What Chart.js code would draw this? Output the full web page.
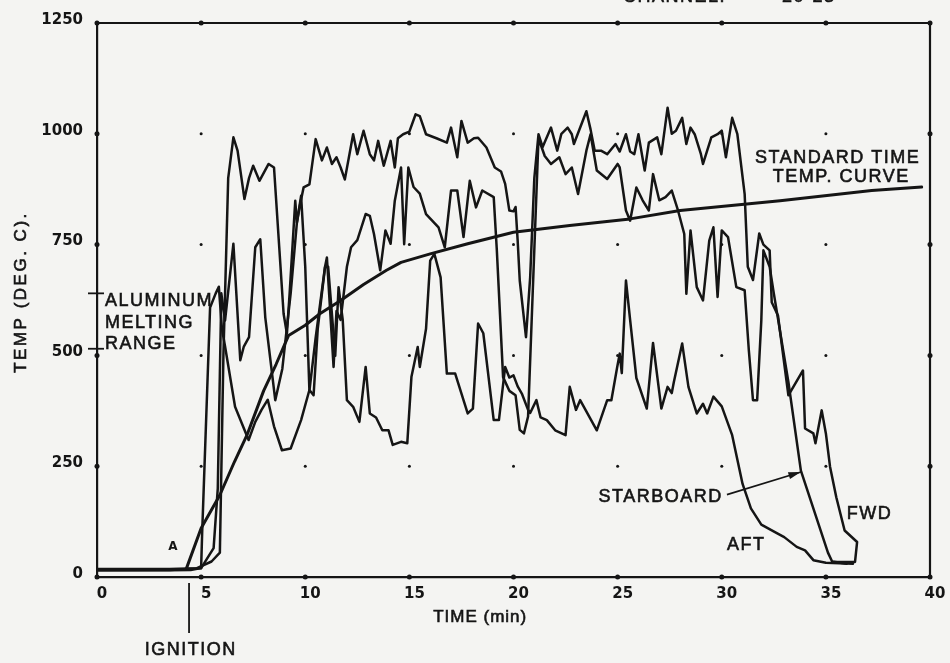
<!DOCTYPE html>
<html>
<head>
<meta charset="utf-8">
<style>
html,body{margin:0;padding:0;background:#f4f4f2;}
canvas{display:block;}
</style>
<script src="https://cdn.jsdelivr.net/npm/chart.js@4"></script>
</head>
<body>
<canvas id="c" width="950" height="663"></canvas>
<script>
// ---- tick labels ----
const xTickValues = [0, 5, 10, 15, 20, 25, 30, 35, 40];
const yTickValues = [0, 250, 500, 750, 1000, 1250];

// ---- FWD thermocouple (min, deg C) ----
const fwdTime = [0,3.5,4.8,5.5,5.9,6.07,6.3,6.55,6.75,7.08,7.3,7.5,7.8,8.24,8.5,8.96,9.12,9.25,9.52,9.6,9.75,9.92,10.2,10.5,10.8,11.04,11.28,11.5,11.7,11.9,12.3,12.5,12.8,13.1,13.3,13.5,13.77,14.1,14.3,14.45,14.7,15.0,15.3,15.5,15.8,16.3,16.8,17.0,17.3,17.5,17.8,18.1,18.3,18.7,19.1,19.4,19.6,19.8,20.0,20.1,20.2,20.3,20.6,20.8,21.0,21.2,21.4,21.8,22.1,22.3,22.6,22.8,22.9,23.5,23.7,23.9,24.2,24.5,24.9,25.1,25.4,25.6,25.8,26.0,26.3,26.5,26.9,27.1,27.4,27.6,27.8,28.1,28.3,28.5,28.7,29.0,29.1,29.5,29.8,30.0,30.2,30.5,30.75,31.1,31.25,31.5,31.8,32.0,32.3,32.4,32.7,33.2,33.9,34.0,34.4,34.5,34.8,35.0,35.2,35.5,35.9,36.5,36.4,35.3];
const fwdTemp = [18,18,20,35,55,500,900,992,962,853,900,928,894,932,924,594,549,640,849,800,840,879,886,988,940,969,932,947,924,897,999,954,1007,954,940,984,928,984,924,990,999,1005,1044,1040,999,990,980,1014,947,1029,980,990,991,969,924,915,887,827,825,835,759,669,541,676,900,999,970,1014,962,1000,1014,999,977,1051,1010,962,962,954,977,960,999,960,954,999,917,980,992,954,1059,1000,1007,1036,977,1014,999,954,932,992,999,1007,947,1036,999,864,700,670,775,750,737,620,590,410,466,335,324,302,376,324,249,180,105,79,34,34];

// ---- STARBOARD thermocouple ----
const starboardTime = [0,3.5,4.5,5.0,5.6,5.8,5.97,6.15,6.55,6.88,7.05,7.3,7.6,7.84,8.08,8.56,8.9,9.3,9.6,9.8,10.0,10.2,10.5,10.95,11.04,11.36,11.5,11.7,12.0,12.2,12.5,12.9,13.1,13.3,13.6,13.85,14.1,14.3,14.6,14.75,14.95,15.2,15.5,15.8,16.4,16.7,17.0,17.3,17.6,17.9,18.2,18.5,19.05,19.2,19.5,19.8,20.1,20.3,20.5,20.7,21.2,21.5,21.8,22.2,22.5,22.8,23.1,23.5,23.7,24.0,24.5,25.0,25.1,25.4,25.6,25.9,26.2,26.5,26.7,27.0,27.3,27.6,27.9,28.2,28.3,28.5,28.8,29.1,29.4,29.6,29.8,30.0,30.3,30.7,31.1,31.3,31.5,31.7,31.9,32.0,32.3,32.5,33.2,33.8,35.1,35.3,36.0];
const starboardTemp = [15,15,16,20,65,200,640,579,752,489,520,541,744,762,586,399,470,640,800,860,700,420,540,700,721,474,600,580,700,744,760,819,815,774,692,782,752,849,924,751,924,880,865,819,789,744,872,872,767,894,834,872,857,737,451,420,410,332,324,362,990,950,932,947,909,924,864,962,999,917,898,932,924,827,804,879,850,827,909,850,857,872,827,774,639,782,654,624,759,789,632,782,767,654,647,512,399,399,579,737,700,640,440,240,55,35,30];

// ---- AFT thermocouple ----
const aftTime = [0,3.5,5.0,5.05,5.43,5.7,5.85,6.0,6.15,6.63,7.28,7.6,7.9,8.2,8.5,8.88,9.3,9.8,10.2,10.4,10.6,10.95,11.1,11.44,11.6,11.8,12.0,12.3,12.6,12.9,13.1,13.4,13.7,14.0,14.2,14.6,14.9,15.1,15.4,15.5,15.8,16.0,16.2,16.5,16.8,17.2,17.8,18.05,18.3,18.55,19.05,19.3,19.6,19.8,20.0,20.2,20.4,20.7,20.8,21.1,21.3,21.6,22.0,22.5,22.7,23.0,23.2,24.0,24.5,24.7,24.98,25.1,25.2,25.4,25.6,25.9,26.4,26.7,27.1,27.4,27.6,27.7,28.1,28.4,28.8,29.1,29.3,29.6,30.0,30.5,31.0,31.4,31.9,32.6,33.0,33.6,34.0,34.4,35.0,36.3];
const aftTemp = [15,16,20,100,608,640,655,560,520,384,309,350,377,400,340,286,290,354,422,410,560,699,700,499,654,580,399,384,350,474,369,360,331,331,298,305,302,452,519,474,560,714,729,676,459,459,369,380,572,550,354,354,474,450,455,430,414,377,370,399,360,354,331,320,429,377,399,331,399,399,474,504,460,669,580,449,380,528,380,429,415,440,527,429,369,391,369,407,385,320,210,155,118,100,90,68,60,38,32,30];

// ---- Standard time-temperature curve ----
const standardTime = [4.3,5.0,5.9,6.6,7.2,8.0,8.6,9.2,10.0,10.7,11.7,12.8,13.9,14.6,16.0,17.8,20.0,22.7,25.6,28.0,32.8,37.2,39.6];
const standardTemp = [20,110,185,260,320,420,480,545,568,594,624,660,692,710,729,752,778,793,808,827,849,872,880];

const pairs = (ts, vs) => ts.map((t, i) => ({x: t, y: vs[i]}));
const INK = '#151515';

const decor = {
  id: 'decor',
  beforeDraw(chart) {
    const c = chart.ctx;
    c.save();
    c.fillStyle = '#f4f4f2';
    c.fillRect(0, 0, chart.width, chart.height);
    c.restore();
  },
  afterDraw(chart) {
    const c = chart.ctx, xs = chart.scales.x, ys = chart.scales.y, a = chart.chartArea;
    const X = t => xs.getPixelForValue(t), Y = v => ys.getPixelForValue(v);
    c.save();
    c.strokeStyle = INK; c.fillStyle = INK;
    // top and right frame
    c.lineWidth = 2.2;
    c.beginPath();
    c.moveTo(a.left, a.top); c.lineTo(a.right, a.top); c.lineTo(a.right, a.bottom);
    c.stroke();
    // grid dots and axis blobs
    xTickValues.forEach(t => {
      yTickValues.forEach(v => {
        const onEdge = (t === 0 || t === 40 || v === 0 || v === 1250);
        c.beginPath();
        c.arc(X(t), Y(v), onEdge ? 2.5 : 1.5, 0, Math.PI * 2);
        c.fill();
      });
    });
    // aluminum melting range ticks
    c.lineWidth = 1.8;
    [640, 515].forEach(v => {
      c.beginPath(); c.moveTo(a.left - 9, Y(v)); c.lineTo(a.left + 7, Y(v)); c.stroke();
    });
    // ignition marker
    c.beginPath(); c.moveTo(X(4.42), a.bottom + 6); c.lineTo(X(4.42), a.bottom + 56); c.stroke();
    // starboard arrow
    const x0 = X(30.25), y0 = Y(186), x1 = X(33.8), y1 = Y(237);
    c.lineWidth = 1.7;
    c.beginPath(); c.moveTo(x0, y0); c.lineTo(x1, y1); c.stroke();
    const ang = Math.atan2(y1 - y0, x1 - x0);
    c.beginPath();
    c.moveTo(x1, y1);
    c.lineTo(x1 - 13 * Math.cos(ang - 0.28), y1 - 13 * Math.sin(ang - 0.28));
    c.lineTo(x1 - 13 * Math.cos(ang + 0.28), y1 - 13 * Math.sin(ang + 0.28));
    c.closePath(); c.fill();
    // small plotter symbols near ignition
    c.font = 'bold 12px "DejaVu Sans", sans-serif';
    c.textAlign = 'center'; c.textBaseline = 'middle';
    c.fillText('A', X(3.65), Y(68));

    // texts
    c.textBaseline = 'middle';
    c.lineWidth = 0.6;
    const txt = (s, x, y, align, font, sp) => {
      c.font = font; c.textAlign = align;
      if ('letterSpacing' in c) c.letterSpacing = sp;
      c.fillText(s, x, y);
      c.strokeText(s, x, y);
    };
    const F = '18px "Liberation Sans", Arial, sans-serif';
    txt('ALUMINUM', X(0.38), Y(622), 'left', F, '1.5px');
    txt('MELTING', X(0.38), Y(574), 'left', F, '1.5px');
    txt('RANGE', X(0.38), Y(526), 'left', F, '1.5px');
    txt('STANDARD TIME', X(31.6), Y(946), 'left', F, '1.5px');
    txt('TEMP. CURVE', X(32.45), Y(902), 'left', F, '1.5px');
    txt('STARBOARD', X(30.05), Y(180), 'right', F, '1.5px');
    txt('FWD', X(36.0), Y(142), 'left', F, '1.5px');
    txt('AFT', X(30.25), Y(72), 'left', F, '1.5px');
    txt('IGNITION', X(4.5), a.bottom + 73, 'center', F, '1.5px');
    txt('TIME (min)', X(18.4), a.bottom + 40, 'center', '17px "Liberation Sans", Arial, sans-serif', '1px');
    txt('CHANNEL:', 623, -3, 'left', F, '1.5px');
    txt('20-23', 782, -3, 'left', F, '1.5px');
    // y title
    c.save();
    c.translate(21, 292);
    c.rotate(-Math.PI / 2);
    txt('TEMP (DEG. C).', 0, 0, 'center', '17px "Liberation Sans", Arial, sans-serif', '2.5px');
    c.restore();
    c.restore();
  }
};

const lineStyle = (w) => ({borderColor: INK, borderWidth: w, pointRadius: 0, showLine: true, fill: false, tension: 0, borderJoinStyle: 'round', borderCapStyle: 'round'});
const tickFont = {family: '"DejaVu Sans", sans-serif', size: 15, weight: 'bold'};

new Chart(document.getElementById('c'), {
  type: 'scatter',
  data: {
    datasets: [
      Object.assign({label: 'FWD', data: pairs(fwdTime, fwdTemp)}, lineStyle(2.5)),
      Object.assign({label: 'STARBOARD', data: pairs(starboardTime, starboardTemp)}, lineStyle(2.5)),
      Object.assign({label: 'AFT', data: pairs(aftTime, aftTemp)}, lineStyle(2.5)),
      Object.assign({label: 'STANDARD TIME TEMP. CURVE', data: pairs(standardTime, standardTemp)}, lineStyle(3))
    ]
  },
  options: {
    responsive: false,
    animation: false,
    devicePixelRatio: 1,
    layout: {padding: {top: 22, right: 20, left: 0, bottom: 0}},
    plugins: {legend: {display: false}, tooltip: {enabled: false}},
    scales: {
      x: {
        type: 'linear', min: 0, max: 40,
        afterBuildTicks: s => { s.ticks = xTickValues.map(v => ({value: v})); },
        afterFit: s => { s.height = 86; },
        grid: {display: false, drawTicks: false},
        border: {display: true, color: INK, width: 2.2},
        ticks: {padding: 8, labelOffset: 5, color: INK, maxRotation: 0, autoSkip: false,
                callback: v => String(v), font: tickFont}
      },
      y: {
        type: 'linear', min: 0, max: 1250,
        afterBuildTicks: s => { s.ticks = yTickValues.map(v => ({value: v})); },
        afterFit: s => { s.width = 97; },
        grid: {display: false, drawTicks: false},
        border: {display: true, color: INK, width: 2.2},
        ticks: {padding: 14, labelOffset: -3, color: INK, autoSkip: false,
                callback: v => String(v), font: tickFont}
      }
    }
  },
  plugins: [decor]
});
</script>
</body>
</html>
